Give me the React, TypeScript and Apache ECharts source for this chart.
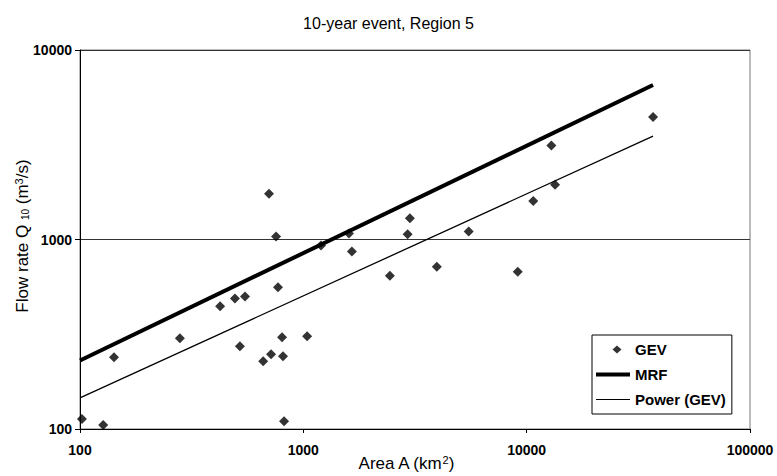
import React, { useEffect, useRef } from "react";
import * as echarts from "echarts";

const titleText = "10-year event, Region 5";
const xAxisName = "Area A (km{sup|2})";
const yAxisName = "Flow rate Q {sub|10} (m{sup|3}/s)";
const gevArea = [102, 127, 142, 280, 424, 494, 548, 520, 702, 755, 770, 661, 717, 803, 811, 820, 1040, 1200, 1600, 1650, 3000, 2930, 2440, 3960, 5500, 9120, 10700, 12900, 13400, 36800];
const gevFlow = [113, 105, 239, 301, 444, 489, 501, 273, 1746, 1037, 559, 228, 248, 305, 242, 110, 309, 930, 1076, 865, 1295, 1066, 644, 718, 1102, 676, 1598, 3136, 1947, 4424];
const mrfArea = [100, 36800];
const mrfFlow = [230, 6540];
const powerArea = [100, 36800];
const powerFlow = [146, 3510];
const xMin = 100;
const xMax = 100000;
const yMin = 100;
const yMax = 10000;

const FONT = "Liberation Sans, Arial, sans-serif";

// legend icons drawn in a 34x8 box (the leading moves fix the bounding box)
const ICON_DIAMOND = "path://M0,0M34,8M21,0L25.5,4L21,8L16.5,4Z";
const ICON_THICK = "path://M0,0M34,8M0,2L34,2L34,6L0,6Z";
const ICON_THIN = "path://M0,0M34,8M0,3.4L34,3.4L34,4.6L0,4.6Z";

const nameRich = {
  sub: { fontFamily: FONT, fontSize: 10, fill: "#000", color: "#000", verticalAlign: "bottom" },
  sup: { fontFamily: FONT, fontSize: 11, fill: "#000", color: "#000", verticalAlign: "top" },
};

export default function App() {
  const ref = useRef<HTMLDivElement>(null);
  useEffect(() => {
    if (!ref.current) return;
    const chart = echarts.init(ref.current, undefined, { renderer: "svg" });
    const plain = (v: number) => String(Math.round(v));
    chart.setOption({
      animation: false,
      backgroundColor: "#fff",
      title: {
        text: titleText,
        left: "center",
        top: 10,
        textStyle: { fontFamily: FONT, fontSize: 16, fontWeight: "normal", color: "#000" },
      },
      grid: {
        left: 80,
        right: 27,
        top: 50,
        bottom: 47,
        containLabel: false,
        outerBoundsMode: "none",
        show: true,
        borderColor: "#777",
        borderWidth: 1,
        backgroundColor: "#fff",
      },
      legend: {
        orient: "vertical",
        left: 592,
        top: 335,
        backgroundColor: "#fff",
        borderColor: "#000",
        borderWidth: 1,
        padding: [7, 6, 7, 4],
        itemGap: 10,
        itemWidth: 34,
        itemHeight: 8,
        textStyle: { fontFamily: FONT, fontSize: 15, fontWeight: "bold", color: "#000" },
        data: [
          { name: "GEV", icon: ICON_DIAMOND },
          { name: "MRF", icon: ICON_THICK },
          { name: "Power (GEV)", icon: ICON_THIN },
        ],
      },
      graphic: [
        {
          type: "text",
          x: 406,
          y: 463,
          style: {
            text: xAxisName,
            fontFamily: FONT,
            fontSize: 17,
            fill: "#000",
            align: "center",
            verticalAlign: "middle",
            rich: nameRich,
          },
        },
        {
          type: "text",
          x: 22,
          y: 236,
          rotation: Math.PI / 2,
          style: {
            text: yAxisName,
            fontFamily: FONT,
            fontSize: 17,
            fill: "#000",
            align: "center",
            verticalAlign: "middle",
            rich: nameRich,
          },
        },
      ],
      xAxis: {
        type: "log",
        logBase: 10,
        min: xMin,
        max: xMax,
        interval: 1,
        axisLine: { show: true, lineStyle: { color: "#000", width: 1 } },
        axisTick: { show: true, inside: false, length: 4, lineStyle: { color: "#000" } },
        axisLabel: { fontFamily: FONT, fontSize: 14, fontWeight: "bold", color: "#000", margin: 14, formatter: plain },
        splitLine: { show: false },
      },
      yAxis: {
        type: "log",
        logBase: 10,
        min: yMin,
        max: yMax,
        interval: 1,
        axisLine: { show: true, lineStyle: { color: "#000", width: 1 } },
        axisTick: { show: true, inside: false, length: 5, lineStyle: { color: "#000" } },
        axisLabel: { fontFamily: FONT, fontSize: 14, fontWeight: "bold", color: "#000", margin: 8, formatter: plain },
        splitLine: { show: true, lineStyle: { color: "#333", width: 1 } },
      },
      series: [
        {
          name: "GEV",
          type: "scatter",
          symbol: "diamond",
          symbolSize: 10,
          itemStyle: { color: "#000" },
          data: gevArea.map((a, i) => [a, gevFlow[i]]),
          z: 3,
        },
        {
          name: "MRF",
          type: "line",
          symbol: "none",
          showSymbol: false,
          lineStyle: { color: "#000", width: 4 },
          itemStyle: { color: "#000" },
          data: mrfArea.map((a, i) => [a, mrfFlow[i]]),
          z: 2,
        },
        {
          name: "Power (GEV)",
          type: "line",
          symbol: "none",
          showSymbol: false,
          lineStyle: { color: "#000", width: 1.3 },
          itemStyle: { color: "#000" },
          data: powerArea.map((a, i) => [a, powerFlow[i]]),
          z: 2,
        },
      ],
    });
    return () => chart.dispose();
  }, []);
  return (
    <div
      ref={ref}
      style={{ position: "absolute", left: 0, top: 0, width: 777, height: 476, background: "#fff" }}
    />
  );
}
